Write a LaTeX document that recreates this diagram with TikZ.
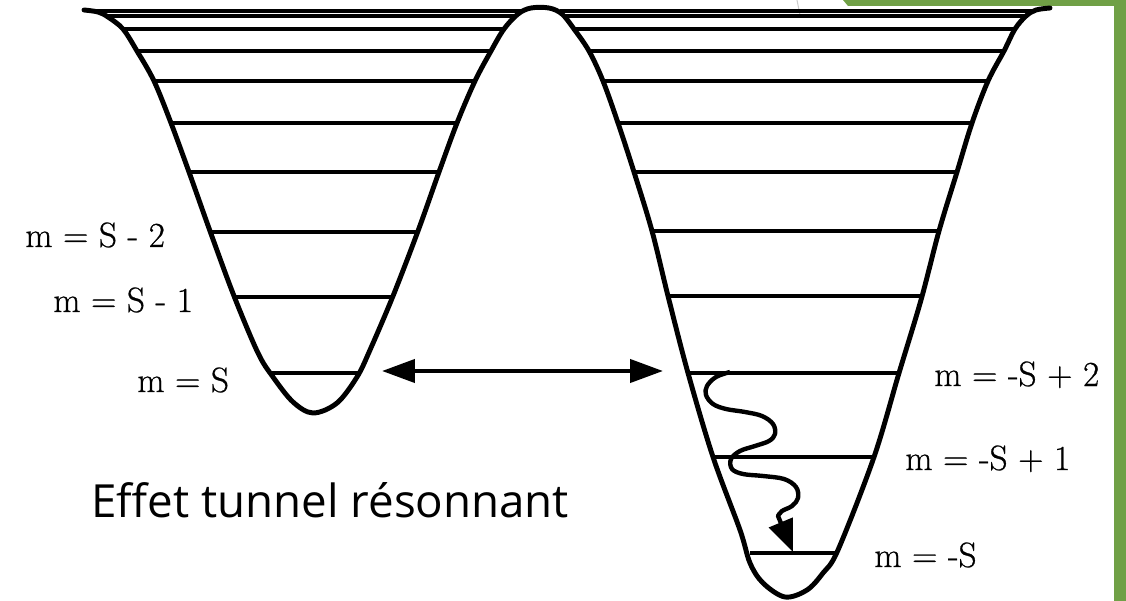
\documentclass[tikz,border=0pt]{standalone}
\usepackage{fontspec}
\newfontfamily\titlefont{Open Sans}
\newfontfamily\labfont[FakeBold=0.7]{Latin Modern Roman}
\usepackage{tikz}
\usetikzlibrary{arrows.meta}
\definecolor{slidegreen}{RGB}{112,160,70}

\begin{document}
\begin{tikzpicture}[
  x=0.02cm, y=-0.02cm,
  well/.style={line width=2.8pt, line join=round, line cap=round},
  lvl/.style={line width=1.9pt},
  lab/.style={anchor=base west, inner sep=0pt, font=\labfont\fontsize{20}{22}\selectfont},
  arr/.style={{Triangle[length=0.66cm,width=0.46cm]}-{Triangle[length=0.66cm,width=0.46cm]}, line width=2.4pt},
  wave/.style={-{Triangle[length=0.64cm,width=0.5cm]}, line width=2.5pt, line join=round}
]
  \useasboundingbox (0,0) rectangle (1126,601);
  % slide decoration
  \fill[slidegreen] (843,0) -- (1126,0) -- (1126,601) -- (1114,601) -- (1114,6) -- (848,6) -- cycle;
  \draw[gray!40, line width=0.6pt] (797,0) -- (800,15);
  % levels
  \foreach \y/\a/\b in {11/96/521, 16/107/516, 29/123/504, 51/137/491, 81/154/475,
      123/171/457, 172/189/439, 232/209/418, 297/235/393, 373/270/360,
      11/560/1033, 16/564/1026, 29/574/1015, 51/589/1004, 81/603/988,
      123/618/972, 172/634/957, 231/652/939, 296/668/923, 373/688/899,
      457/713/874, 553/750/838}
    \draw[lvl] (\a,\y) -- (\b,\y);
  % double well
  \draw[well] plot[smooth, tension=0.55] coordinates {
    (84,10) (98,12) (108,17) (123,29) (137,51) (154,81) (171,123) (189,172)
    (210,231) (234,296) (258,353) (273,377) (293,402) (313,413) (337,403)
    (357,377) (370,350) (393,296) (418,231) (439,172) (457,123) (475,81)
    (491,51) (504,29) (518,14) (531,8) (549,8) (562,14) (574,29) (589,51)
    (603,81) (618,123) (634,172) (652,231) (668,296) (688,373) (713,457)
    (740,530) (750,563) (763,583) (785,597) (807,590) (823,573) (838,550)
    (874,457) (899,373) (921,300) (939,231) (957,172) (972,123) (988,81)
    (1004,51) (1015,29) (1026,16) (1036,10) (1050,8)};
  % tunnelling
  \coordinate (tl) at (382,371);
  \coordinate (tr) at (663,371);
  \draw[arr] (tl) -- (tr);
  % relaxation
  \coordinate (tip) at (793,552);
  \draw[wave] plot[smooth, tension=0.6] coordinates {
    (730,372) (716,377) (707,386) (706,395) (713,404) (726,409) (745,412)
    (762,416) (773,424) (775,434) (769,441) (755,446) (740,451) (731,459)
    (732,469) (743,474) (763,476) (784,479) (796,487) (798,498) (792,506)
    (782,511) (778,516)} -- (tip);
  \node[lab] (lS2) at (25,247) {m = S - 2};
  \node[lab] (lS1) at (53,312) {m = S - 1};
  \node[lab] (lS0) at (137,392) {m = S};
  \node[lab] (rS2) at (934,386) {m = -S + 2};
  \node[lab] (rS1) at (905,470) {m = -S + 1};
  \node[lab] (rS0) at (874,567) {m = -S};
  \node[anchor=base west, inner sep=0pt, font=\titlefont\fontsize{26}{30}\selectfont] (title)
    at (91,517) {Effet tunnel résonnant};
\end{tikzpicture}
\end{document}
